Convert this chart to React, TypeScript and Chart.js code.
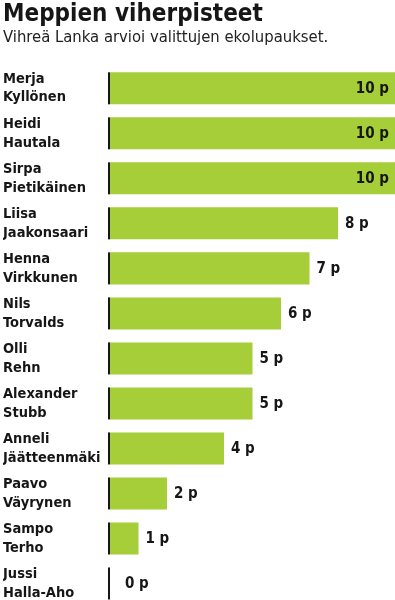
import React, { useEffect, useRef } from "react";
import { Chart, registerables } from "chart.js";

Chart.register(...registerables);

const names: string[][] = [
  ["Merja", "Kyllönen"],
  ["Heidi", "Hautala"],
  ["Sirpa", "Pietikäinen"],
  ["Liisa", "Jaakonsaari"],
  ["Henna", "Virkkunen"],
  ["Nils", "Torvalds"],
  ["Olli", "Rehn"],
  ["Alexander", "Stubb"],
  ["Anneli", "Jäätteenmäki"],
  ["Paavo", "Väyrynen"],
  ["Sampo", "Terho"],
  ["Jussi", "Halla-Aho"],
];
const points: number[] = [10, 10, 10, 8, 7, 6, 5, 5, 4, 2, 1, 0];
const titleText = "Meppien viherpisteet";
const subtitleText = "Vihreä Lanka arvioi valittujen ekolupaukset.";

const FONT = "'DejaVu Sans Condensed', 'DejaVu Sans', sans-serif";
const GREEN = "#a6ce39";
const INK = "#161616";

const barDecor = {
  id: "barDecor",
  afterDatasetsDraw(chart: any) {
    const ctx = chart.ctx;
    const meta = chart.getDatasetMeta(0);
    const base = chart.chartArea.left;
    ctx.save();
    meta.data.forEach((el: any, i: number) => {
      const props = el.getProps(["x", "y", "height"], true);
      ctx.fillStyle = INK;
      ctx.fillRect(base - 2, props.y - props.height / 2, 2, props.height);
      const v = points[i];
      ctx.font = `bold 15px ${FONT}`;
      ctx.textBaseline = "middle";
      ctx.fillStyle = INK;
      const text = `${v} p`;
      const w = ctx.measureText(text).width;
      if (props.x + 8 + w > chart.chartArea.right) {
        ctx.textAlign = "right";
        ctx.fillText(text, props.x - 6, props.y + 1);
      } else {
        ctx.textAlign = "left";
        ctx.fillText(text, Math.max(props.x, base + 8) + 7, props.y + 1);
      }
    });
    ctx.restore();
  },
};

export default function App() {
  const ref = useRef<HTMLCanvasElement>(null);
  useEffect(() => {
    document.body.style.margin = "0";
    const chart = new Chart(ref.current!, {
      type: "bar",
      data: {
        labels: names,
        datasets: [
          {
            data: points,
            backgroundColor: GREEN,
            borderWidth: 0,
            barPercentage: 32 / 45,
            categoryPercentage: 1,
          },
        ],
      },
      options: {
        indexAxis: "y",
        responsive: false,
        animation: false,
        layout: { padding: { left: 3, right: 0, top: 0, bottom: 0 } },
        plugins: {
          legend: { display: false },
          tooltip: { enabled: false },
          title: {
            display: true,
            text: titleText,
            align: "start",
            color: INK,
            font: { family: FONT, size: 24, weight: "bold", lineHeight: 1.0 },
            padding: { top: 3, bottom: 1 },
          },
          subtitle: {
            display: true,
            text: subtitleText,
            align: "start",
            color: "#222222",
            font: { family: FONT, size: 16.5, weight: "normal", lineHeight: 1.2 },
            padding: { top: 0, bottom: 18 },
          },
        },
        scales: {
          x: {
            type: "linear",
            min: 0,
            max: 10,
            display: false,
          },
          y: {
            type: "category",
            grid: { display: false, drawTicks: false },
            border: { display: false },
            ticks: {
              color: INK,
              crossAlign: "far",
              padding: 0,
              font: { family: FONT, size: 14.5, weight: "bold", lineHeight: 1.3 },
            },
            afterFit: (scale: any) => {
              scale.width = 107;
              scale.paddingTop = 0;
              scale.paddingBottom = 0;
            },
          },
        },
      },
      plugins: [barDecor],
    });
    return () => chart.destroy();
  }, []);
  return (
    <div style={{ width: 395, height: 600, overflow: "hidden" }}>
      <canvas ref={ref} width={395} height={606} style={{ display: "block" }} />
    </div>
  );
}
